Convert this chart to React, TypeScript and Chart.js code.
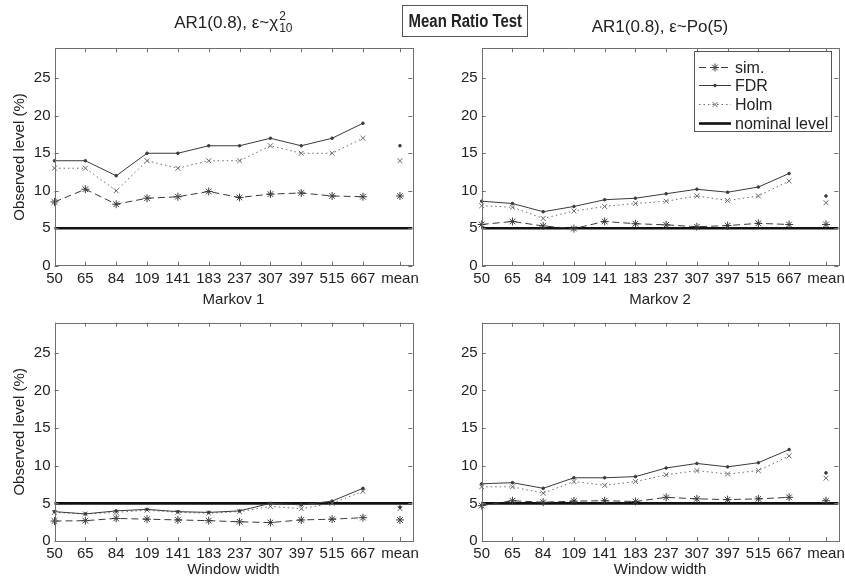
import React, { useEffect, useRef } from "react";
import { Chart, registerables } from "chart.js";
import { drawPoint } from "chart.js/helpers";

Chart.register(...registerables);

// Window widths on the x axis; the last column holds the mean over all widths.
const windowWidths = ["50", "65", "84", "109", "141", "183", "237", "307", "397", "515", "667", "mean"];
const yTickValues = [0, 5, 10, 15, 20, 25];
const yMax = 29;
const nominalLevel = 5;

// AR1(0.8), chi-square(10) errors
const ar1ChiSim = [8.5, 10.2, 8.2, 9.0, 9.2, 9.9, 9.1, 9.55, 9.7, 9.3, 9.2, 9.3];
const ar1ChiFdr = [14, 14, 12, 15, 15, 16, 16, 17, 16, 17, 19, 16];
const ar1ChiHolm = [13, 13, 10, 14, 13, 14, 14, 16, 15, 15, 17, 14];

// AR1(0.8), Poisson(5) errors
const ar1PoSim = [5.5, 5.9, 5.3, 4.95, 5.9, 5.6, 5.45, 5.2, 5.35, 5.65, 5.5, 5.5];
const ar1PoFdr = [8.6, 8.3, 7.2, 7.9, 8.8, 9.0, 9.6, 10.2, 9.8, 10.5, 12.3, 9.3];
const ar1PoHolm = [8.0, 7.8, 6.3, 7.3, 7.9, 8.3, 8.6, 9.3, 8.7, 9.3, 11.3, 8.4];

// Markov 1
const markov1Sim = [2.65, 2.7, 3.0, 2.9, 2.8, 2.7, 2.55, 2.45, 2.8, 2.9, 3.1, 2.8];
const markov1Fdr = [3.9, 3.6, 4.0, 4.2, 3.9, 3.8, 4.0, 5.0, 4.8, 5.3, 7.0, 4.5];
const markov1Holm = [3.8, 3.6, 3.8, 4.1, 3.8, 3.7, 3.9, 4.6, 4.3, 5.0, 6.6, 4.3];

// Markov 2
const markov2Sim = [4.7, 5.35, 5.15, 5.3, 5.35, 5.25, 5.8, 5.6, 5.5, 5.6, 5.8, 5.35];
const markov2Fdr = [7.6, 7.75, 7.0, 8.4, 8.4, 8.55, 9.7, 10.3, 9.85, 10.4, 12.15, 9.05];
const markov2Holm = [7.2, 7.2, 6.35, 7.9, 7.4, 7.9, 8.8, 9.35, 8.9, 9.35, 11.3, 8.35];

// The mean column sits a little apart from the last window width.
const MEAN_GAP = 1.2;
const X_RIGHT_MARGIN = 0.4;

const PAGE_W = 845;
const PAGE_H = 582;
const FONT = "'Liberation Sans', Arial, Helvetica, sans-serif";
const TEXT = "#222";
const FRAME = "#6f6f6f";
const FONT_SIZE = 15;

const columnX = (i: number) => (i < windowWidths.length - 1 ? i : windowWidths.length - 2 + MEAN_GAP);
const xMax = columnX(windowWidths.length - 1) + X_RIGHT_MARGIN;

const simStyle = { label: "sim.", color: "#3a3a3a", width: 1, dash: [7, 4], pointStyle: "star", radius: 4 };
const fdrStyle = { label: "FDR", color: "#3a3a3a", width: 1, dash: [] as number[], pointStyle: "circle", radius: 1.3 };
const holmStyle = { label: "Holm", color: "#6a6a6a", width: 1, dash: [1.5, 3], pointStyle: "crossRot", radius: 3.5 };
const nominalStyle = { label: "nominal level", color: "#111", width: 2.6, dash: [] as number[], pointStyle: false as any, radius: 0 };

// Connect the window widths with a line; the mean column stands alone.
function seriesPoints(values: number[]) {
  const n = values.length - 1;
  const pts: { x: number; y: number | null }[] = values.slice(0, n).map((y, i) => ({ x: columnX(i), y }));
  pts.push({ x: (columnX(n - 1) + columnX(n)) / 2, y: null });
  pts.push({ x: columnX(n), y: values[n] });
  return pts;
}

function lineDataset(style: any, values: number[]) {
  return {
    label: style.label,
    data: seriesPoints(values),
    borderColor: style.color,
    backgroundColor: style.color,
    borderWidth: style.width,
    borderDash: style.dash,
    pointStyle: style.pointStyle,
    pointRadius: style.radius,
    pointBorderWidth: 1,
    pointBorderColor: style.color,
    pointBackgroundColor: style.color,
    tension: 0,
    spanGaps: false,
    clip: false as any,
  };
}

// Inward tick marks and a full box around the plot area.
const framePlugin = {
  id: "frameTicks",
  afterDraw(chart: any) {
    const { ctx, chartArea, scales } = chart;
    const { left, right, top, bottom } = chartArea;
    const len = 4;
    ctx.save();
    ctx.strokeStyle = FRAME;
    ctx.lineWidth = 1;
    ctx.setLineDash([]);
    ctx.beginPath();
    windowWidths.forEach((_, i) => {
      const x = Math.round(scales.x.getPixelForValue(columnX(i))) + 0.5;
      ctx.moveTo(x, bottom);
      ctx.lineTo(x, bottom - len);
      ctx.moveTo(x, top);
      ctx.lineTo(x, top + len);
    });
    yTickValues.forEach((v) => {
      const y = Math.round(scales.y.getPixelForValue(v)) + 0.5;
      ctx.moveTo(left, y);
      ctx.lineTo(left + len, y);
      ctx.moveTo(right, y);
      ctx.lineTo(right - len, y);
    });
    ctx.stroke();
    ctx.strokeRect(Math.round(left) + 0.5, Math.round(top) + 0.5, Math.round(right - left), Math.round(bottom - top));
    ctx.restore();
  },
};

const legendEntries = [simStyle, fdrStyle, holmStyle, nominalStyle];

const legendPlugin = {
  id: "panelLegend",
  afterDraw(chart: any) {
    if (!chart.options.plugins.panelLegend?.show) return;
    const { ctx, chartArea } = chart;
    const w = 137;
    const h = 80;
    const x0 = Math.round(chartArea.right - 7 - w);
    const y0 = Math.round(chartArea.top + 3);
    ctx.save();
    ctx.fillStyle = "#fff";
    ctx.fillRect(x0, y0, w, h);
    ctx.strokeStyle = "#555";
    ctx.lineWidth = 1;
    ctx.strokeRect(x0 + 0.5, y0 + 0.5, w, h);
    ctx.font = `${FONT_SIZE + 1}px ${FONT}`;
    ctx.textBaseline = "middle";
    legendEntries.forEach((e, i) => {
      const y = Math.round(y0 + 15.5 + i * 18.7) + 0.5;
      ctx.setLineDash(e.dash);
      ctx.strokeStyle = e.color;
      ctx.lineWidth = e.width;
      ctx.beginPath();
      ctx.moveTo(x0 + 5, y);
      ctx.lineTo(x0 + 37, y);
      ctx.stroke();
      ctx.setLineDash([]);
      if (e.pointStyle) {
        ctx.fillStyle = e.color;
        ctx.strokeStyle = e.color;
        ctx.lineWidth = 1;
        drawPoint(ctx, { pointStyle: e.pointStyle, radius: e.radius, borderWidth: 1, rotation: 0 } as any, x0 + 21, y);
      }
      ctx.fillStyle = TEXT;
      ctx.fillText(e.label, x0 + 41, y + 1);
    });
    ctx.restore();
  },
};

type PanelProps = {
  sim: number[];
  fdr: number[];
  holm: number[];
  area: { left: number; right: number; top: number; bottom: number };
  yTitle: boolean;
  xTitle: boolean;
  legend: boolean;
};

function Panel({ sim, fdr, holm, area, yTitle, xTitle, legend }: PanelProps) {
  const ref = useRef<HTMLCanvasElement | null>(null);

  useEffect(() => {
    if (!ref.current) return;
    const yAxisW = yTitle ? area.left : 40;
    const xAxisH = PAGE_H - area.bottom - (xTitle ? 0 : 286.3);
    const tickFont = { family: FONT, size: FONT_SIZE };
    const chart = new Chart(ref.current, {
      type: "line",
      data: {
        datasets: [
          lineDataset(simStyle, sim),
          lineDataset(fdrStyle, fdr),
          lineDataset(holmStyle, holm),
          {
            ...lineDataset(nominalStyle, [nominalLevel]),
            data: [
              { x: 0, y: nominalLevel },
              { x: xMax, y: nominalLevel },
            ],
            pointRadius: 0,
          },
        ] as any,
      },
      options: {
        responsive: false,
        animation: false,
        events: [],
        layout: {
          padding: {
            left: area.left - yAxisW,
            right: PAGE_W - area.right,
            top: area.top,
            bottom: xTitle ? 0 : 286.3,
          },
        },
        plugins: {
          legend: { display: false },
          tooltip: { enabled: false },
          panelLegend: { show: legend },
        } as any,
        scales: {
          x: {
            type: "linear",
            min: 0,
            max: xMax,
            grid: { display: false, drawTicks: false },
            border: { display: false },
            afterBuildTicks: (s: any) => {
              s.ticks = windowWidths.map((_, i) => ({ value: columnX(i) }));
            },
            ticks: {
              autoSkip: false,
              maxRotation: 0,
              minRotation: 0,
              padding: 4,
              color: TEXT,
              font: tickFont,
              callback: (_v: any, i: number) => windowWidths[i] ?? "",
            },
            title: {
              display: xTitle,
              text: "Window width",
              color: TEXT,
              font: tickFont,
              padding: { top: 0, bottom: 3 },
            },
            afterFit: (s: any) => {
              s.height = xAxisH;
              s.paddingLeft = 0;
              s.paddingRight = 0;
            },
          },
          y: {
            type: "linear",
            min: 0,
            max: yMax,
            grid: { display: false, drawTicks: false },
            border: { display: false },
            ticks: {
              stepSize: 5,
              includeBounds: false,
              padding: 4,
              color: TEXT,
              font: tickFont,
            },
            title: {
              display: yTitle,
              text: "Observed level (%)",
              color: TEXT,
              font: tickFont,
              padding: { top: 11, bottom: 0 },
            },
            afterFit: (s: any) => {
              s.width = yAxisW;
              s.paddingTop = 0;
              s.paddingBottom = 0;
            },
          },
        } as any,
      },
      plugins: [framePlugin, legendPlugin],
    });
    return () => chart.destroy();
  }, []);

  return (
    <canvas
      ref={ref}
      width={PAGE_W}
      height={PAGE_H}
      style={{ position: "absolute", left: 0, top: 0, width: PAGE_W, height: PAGE_H }}
    />
  );
}

const titleStyle: React.CSSProperties = {
  position: "absolute",
  fontFamily: FONT,
  fontSize: FONT_SIZE,
  color: TEXT,
  whiteSpace: "nowrap",
  transform: "translate(-50%, -50%)",
  lineHeight: 1,
};

const topArea = { top: 48.3, bottom: 265.7 };
const bottomArea = { top: 322.7, bottom: 541 };
const leftCols = { left: 54.5, right: 412.3 };
const rightCols = { left: 481.7, right: 838.3 };

export default function App() {
  const leftCenter = (leftCols.left + leftCols.right) / 2;
  const rightCenter = (rightCols.left + rightCols.right) / 2;
  return (
    <div style={{ position: "absolute", left: 0, top: 0, width: PAGE_W, height: PAGE_H, background: "#fff", overflow: "hidden" }}>
      <Panel sim={ar1ChiSim} fdr={ar1ChiFdr} holm={ar1ChiHolm} area={{ ...leftCols, ...topArea }} yTitle xTitle={false} legend={false} />
      <Panel sim={ar1PoSim} fdr={ar1PoFdr} holm={ar1PoHolm} area={{ ...rightCols, ...topArea }} yTitle={false} xTitle={false} legend />
      <Panel sim={markov1Sim} fdr={markov1Fdr} holm={markov1Holm} area={{ ...leftCols, ...bottomArea }} yTitle xTitle legend={false} />
      <Panel sim={markov2Sim} fdr={markov2Fdr} holm={markov2Holm} area={{ ...rightCols, ...bottomArea }} yTitle={false} xTitle legend={false} />

      <div style={{ ...titleStyle, fontSize: 17, left: leftCenter, top: 22, display: "flex", alignItems: "center" }}>
        <span>AR1(0.8), ε~χ</span>
        <span style={{ display: "inline-flex", flexDirection: "column", fontSize: 12, lineHeight: "12px", marginLeft: 1 }}>
          <span>2</span>
          <span>10</span>
        </span>
      </div>
      <div
        style={{
          position: "absolute",
          left: 402,
          top: 5,
          width: 126,
          height: 32,
          border: "1px solid #555",
          boxSizing: "border-box",
          display: "flex",
          alignItems: "center",
          justifyContent: "center",
        }}
      >
        <span
          style={{
            fontFamily: FONT,
            fontWeight: "bold",
            fontSize: 18,
            color: TEXT,
            whiteSpace: "nowrap",
            display: "inline-block",
            transform: "scaleX(0.83)",
          }}
        >
          Mean Ratio Test
        </span>
      </div>
      <div style={{ ...titleStyle, fontSize: 17, left: rightCenter, top: 26 }}>AR1(0.8), ε~Po(5)</div>
      <div style={{ ...titleStyle, left: leftCenter, top: 298 }}>Markov 1</div>
      <div style={{ ...titleStyle, left: rightCenter, top: 298 }}>Markov 2</div>
    </div>
  );
}
